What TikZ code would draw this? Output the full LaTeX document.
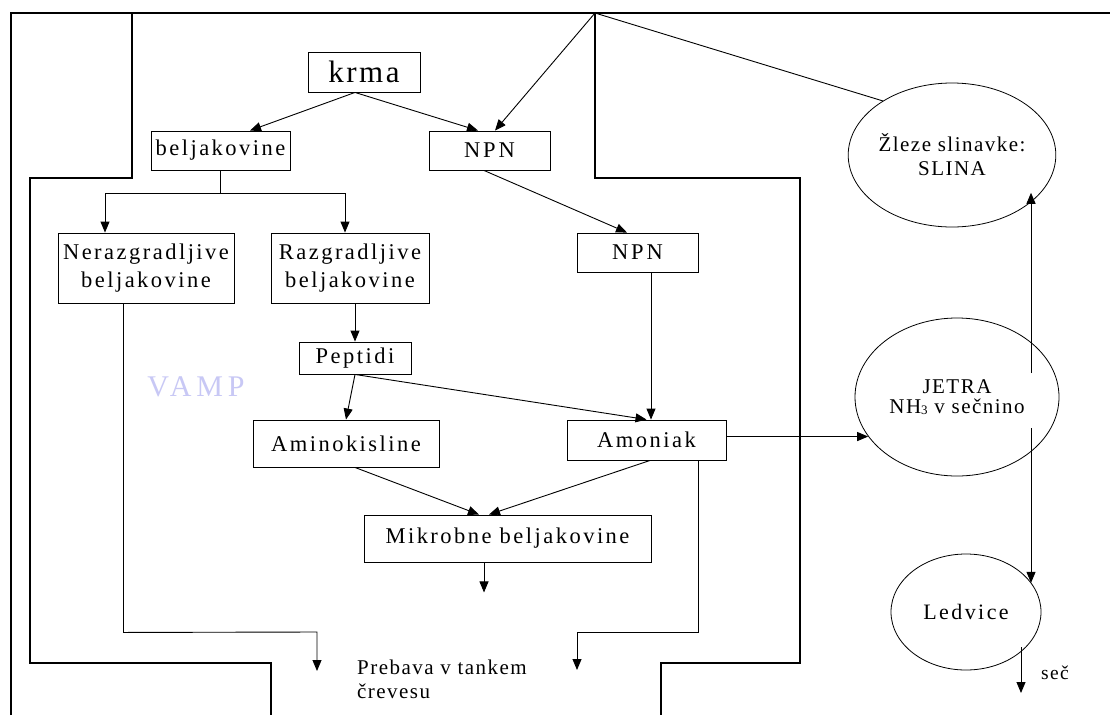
\documentclass[tikz,border=0pt]{standalone}
\usepackage{fontspec}
\setmainfont{Liberation Serif}
\newfontfamily\fA{Liberation Serif}[LetterSpace=11]
\newfontfamily\fB{Liberation Serif}[LetterSpace=7]
\newfontfamily\fK{Liberation Serif}[LetterSpace=8]
\newfontfamily\fN{Liberation Serif}[LetterSpace=13]
\newfontfamily\fV{Liberation Serif}[LetterSpace=16]
\usetikzlibrary{arrows.meta,shapes.geometric,calc}
\definecolor{vampc}{RGB}{200,200,245}
\tikzset{
  box/.style={draw, line width=0.9pt, inner sep=0pt, align=center, font=\fA\fontsize{22.5}{28}\selectfont},
  oval/.style={draw, ellipse, line width=0.8pt, inner sep=0pt, align=center, font=\fB\fontsize{21}{24}\selectfont},
  arr/.style={-{Triangle[length=11pt,width=9pt]}, line width=0.9pt},
  ln/.style={line width=0.9pt},
  wall/.style={line width=1.2pt},
  frame/.style={line width=2pt},
  plain/.style={inner sep=0pt, align=left}
}
\begin{document}
\begin{tikzpicture}[x=1pt,y=-1pt]
\useasboundingbox (0,0) rectangle (1110,715);
\fill[white] (0,0) rectangle (1110,715);
% frame
\coordinate (fr1) at (11,715);
\coordinate (fr2) at (11,13);
\coordinate (fr3) at (1110,13);
\draw[frame] (fr1) -- (fr2) -- (fr3);
% rumen walls
\coordinate (apex) at (595,13);
\coordinate (lw0) at (132,13);
\draw[wall] (lw0) -- (132,178) -- (30,178) -- (30,663) -- (271,663) -- (271,715);
\draw[wall] (apex) -- (595,178) -- (800,178) -- (800,663) -- (661,663) -- (661,715);
% boxes
\node[box, minimum width=112pt, minimum height=40pt, font=\fK\fontsize{31}{31}\selectfont] (krma) at (364,72) {krma};
\node[box, minimum width=139pt, minimum height=39pt] (bel) at (220.5,150.5) {beljakovine};
\node[box, minimum width=121pt, minimum height=39pt, font=\fN\fontsize{22.5}{28}\selectfont] (npn1) at (489.5,150.5) {NPN};
\node[box, minimum width=176pt, minimum height=70pt] (neraz) at (146,268) {Nerazgradljive\\beljakovine};
\node[box, minimum width=158pt, minimum height=70pt] (razg) at (350,268) {Razgradljive\\beljakovine};
\node[box, minimum width=121pt, minimum height=39pt, font=\fN\fontsize{22.5}{28}\selectfont] (npn2) at (637.5,252.5) {NPN};
\node[box, minimum width=112pt, minimum height=32pt] (pept) at (355,358) {Peptidi};
\node[box, minimum width=186pt, minimum height=47pt] (amino) at (346,443.5) {Aminokisline};
\node[box, minimum width=159pt, minimum height=40pt] (amon) at (646.5,440) {Amoniak};
\node[box, minimum width=287pt, minimum height=47pt] (mikro) at (507.5,538.5) {Mikrobne beljakovine};
% ovals
\node[oval, minimum width=178pt, minimum height=144pt] (zleze) at (952,155) {Žleze slinavke:\\SLINA};
\node[oval, minimum width=204pt, minimum height=158pt, font=\fB\fontsize{21}{20}\selectfont] (jetra) at (957,397) {JETRA\\NH\raisebox{-1pt}{\fontsize{13}{13}\selectfont 3} v sečnino};
\node[oval, minimum width=150pt, minimum height=116pt, font=\fA\fontsize{22}{25}\selectfont] (ledv) at (966,612) {Ledvice};
% free texts
\node[plain, text=vampc, font=\fV\fontsize{30}{30}\selectfont] (vamp) at (196,387) {VAMP};
\node[plain, anchor=base west, font=\fB\fontsize{21}{24}\selectfont] (preb) at (357,698) {Prebava v tankem\\črevesu};
\node[plain, anchor=base west, font=\fB\fontsize{19.5}{24}\selectfont] (sec) at (1041,679) {seč};
% connectors top
\draw[arr] ([xshift=-9pt]krma.south) -- ([xshift=29.5pt]bel.north);
\draw[arr] ([xshift=-9pt]krma.south) -- ([xshift=-11.5pt]npn1.north);
\draw[arr] (apex) -- ([xshift=5.5pt]npn1.north);
\draw[ln] (apex) -- (zleze.142);
% beljakovine split
\coordinate (split) at ($(bel.south)+(0,23)$);
\draw[ln] (bel.south) -- (split);
\draw[arr] (split -| neraz.north) ++(-41,0) coordinate (sl) -- (sl |- neraz.north);
\draw[arr] ([xshift=-5pt]split -| razg.north) coordinate (sr) -- (sr |- razg.north);
\draw[ln] (sl) -- (sr);
% middle
\draw[arr] ([xshift=5pt]razg.south) -- (pept.north);
\draw[arr] (pept.south) -- (amino.north);
\draw[arr] (pept.south) -- (amon.north);
\draw[arr] ([xshift=-5.5pt]npn1.south) -- ([xshift=-10.5pt]npn2.north);
\draw[arr] ([xshift=13.5pt]npn2.south) -- ([xshift=4.5pt]amon.north);
\draw[arr] ([xshift=9pt]amino.south) -- ([xshift=-28.5pt]mikro.north);
\draw[arr] ([xshift=3.5pt]amon.south) -- ([xshift=-18.5pt]mikro.north);
\coordinate (mk) at ($(mikro.south)+(-23.5,30)$);
\draw[arr] ([xshift=-23.5pt]mikro.south) -- (mk);
% to small intestine
\coordinate (n1) at ($(neraz.south)+(-22.5,329)$);
\coordinate (n2) at (317,632);
\coordinate (n3) at (317,671);
\draw[arr] ([xshift=-22.5pt]neraz.south) -- (n1) -- (n2) -- (n3);
\coordinate (a1) at (698,632);
\coordinate (a2) at (577,632);
\coordinate (a3) at (577,670);
\draw[arr] ([xshift=51.5pt]amon.south) -- (a1) -- (a2) -- (a3);
% liver
\draw[arr] (amon.east |- jetra.204) -- (jetra.204);
\coordinate (j1) at (1031,373);
\coordinate (j2) at (1031,428);
\draw[arr] (j1) -- (j1 |- zleze.337);
\draw[arr] (j2) -- (j2 |- ledv.24);
\coordinate (s1) at (1021,647);
\coordinate (s2) at (1021,693);
\draw[arr] (s1) -- (s2);
\end{tikzpicture}
\end{document}
